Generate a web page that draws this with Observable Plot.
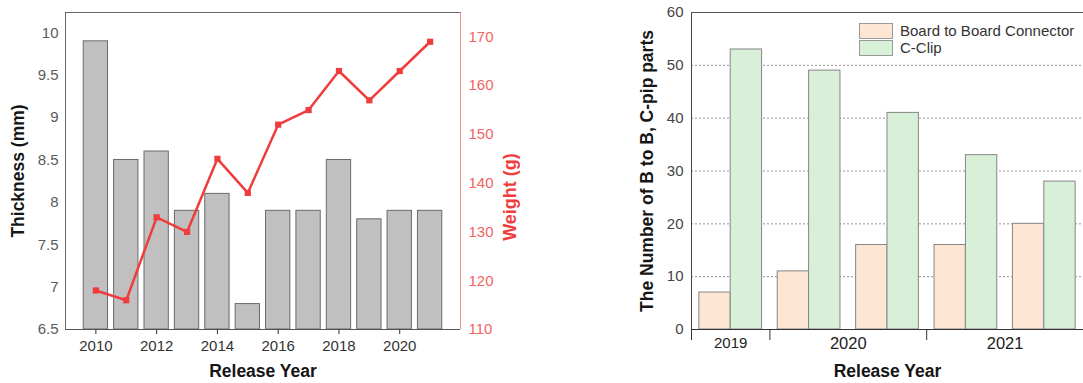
<!DOCTYPE html>
<html>
<head>
<meta charset="utf-8">
<script src="https://cdn.jsdelivr.net/npm/d3@7"></script>
<script src="https://cdn.jsdelivr.net/npm/@observablehq/plot@0.6"></script>
<style>
  body { margin: 0; background: #fff; }
  #chart { position: relative; width: 1083px; height: 383px; overflow: hidden;
           font-family: "Liberation Sans", Arial, sans-serif; }
  #chart svg { position: absolute; top: 0; }
  .legend { position: absolute; left: 859px; top: 22px; font-size: 15px; color: #333; }
  .legend .row { display: flex; align-items: center; height: 17px; }
  .legend .sw { width: 32px; height: 14px; border: 1px solid #9a9a9a; margin-right: 7px; }
</style>
</head>
<body>
<div id="chart"></div>
<script>
// Left panel: thickness (bars) and weight (line) by release year
const years = [2010, 2011, 2012, 2013, 2014, 2015, 2016, 2017, 2018, 2019, 2020, 2021];
const thickness = [9.9, 8.5, 8.6, 7.9, 8.1, 6.8, 7.9, 7.9, 8.5, 7.8, 7.9, 7.9];
const weight = [118, 116, 133, 130, 145, 138, 152, 155, 163, 157, 163, 169];
const yearTicks = [2010, 2012, 2014, 2016, 2018, 2020];
const thicknessTicks = [6.5, 7, 7.5, 8, 8.5, 9, 9.5, 10];
const weightTicks = [110, 120, 130, 140, 150, 160, 170];

// Right panel: part counts per model slot, grouped by release year
const slotYears = ["2019", "2020", "2020", "2021", "2021"];
const seriesNames = ["Board to Board Connector", "C-Clip"];
const boardToBoard = [7, 11, 16, 16, 20];
const cClip = [53, 49, 41, 33, 28];
const countTicks = [0, 10, 20, 30, 40, 50, 60];

const FONT = '"Liberation Sans", Arial, sans-serif';
const chart = document.getElementById("chart");

const phones = years.map((year, i) => ({year, thickness: thickness[i], weight: weight[i]}));

const thickDomain = [6.5, 10.24];
const weightDomain = [110, 175];
const yearDomain = [2009, 2022];

const leftFrame = {
  width: 540, height: 383,
  marginLeft: 65, marginRight: 80, marginTop: 12, marginBottom: 54,
  style: {fontFamily: FONT, fontSize: "15px", background: "transparent", overflow: "visible"}
};

const thickPlot = Plot.plot({
  ...leftFrame,
  x: {type: "linear", domain: yearDomain},
  y: {domain: thickDomain},
  marks: [
    Plot.rectY(phones, {
      x1: d => d.year - 0.4, x2: d => d.year + 0.4,
      y1: thickDomain[0], y2: "thickness",
      fill: "#c0c0c0", stroke: "#6a6a6a", strokeWidth: 1
    }),
    Plot.ruleX([yearDomain[0]], {stroke: "#666"}),
    Plot.ruleY([thickDomain[1]], {stroke: "#666"}),
    Plot.ruleY([thickDomain[0]], {stroke: "#555"}),
    Plot.axisY({ticks: thicknessTicks, tickFormat: d => String(d), tickSize: 0, tickPadding: 7,
                color: "#5a5a5a", label: null}),
    Plot.axisX({ticks: yearTicks, tickFormat: d => String(d), tickSize: 5, tickPadding: 6,
                color: "#333", label: null}),
    Plot.text(["Thickness (mm)"], {frameAnchor: "left", textAnchor: "middle", dx: -47, rotate: -90,
                fontWeight: "bold", fontSize: 17.5, fill: "#151515"}),
    Plot.text(["Release Year"], {frameAnchor: "bottom", lineAnchor: "middle", dy: 42,
                fontWeight: "bold", fontSize: 17.5, fill: "#151515"})
  ]
});

// Weight line drawn on its own right-hand scale over the same frame
const weightPlot = Plot.plot({
  ...leftFrame,
  x: {type: "linear", domain: yearDomain, axis: null},
  y: {domain: weightDomain},
  marks: [
    Plot.ruleX([yearDomain[1]], {stroke: "#f28c8c"}),
    Plot.line(phones, {x: "year", y: "weight", stroke: "#ef3d3d", strokeWidth: 2.5}),
    Plot.dot(phones, {x: "year", y: "weight", symbol: "square", r: 3.5, fill: "#ef3d3d"}),
    Plot.axisY({anchor: "right", ticks: weightTicks, tickSize: 0, tickPadding: 8,
                color: "#f06464", label: null}),
    Plot.text(["Weight (g)"], {frameAnchor: "right", textAnchor: "middle", dx: 50, dy: 26, rotate: -90,
                fontWeight: "bold", fontSize: 18, fill: "#ef3d3d"})
  ]
});

// Right panel data
const slots = slotYears.map((year, i) => ({slot: i, year, counts: [boardToBoard[i], cClip[i]]}));
const bars = slots.flatMap(d => seriesNames.map((name, k) => ({slot: d.slot, k, name, value: d.counts[k]})));
const yearSpans = d3.rollups(slots, v => d3.mean(v, d => d.slot), d => d.year)
  .map(([year, center]) => ({year, center}));
const yearBounds = slots.filter((d, i) => i === 0 || d.year !== slots[i - 1].year).map(d => d.slot - 0.5);
const slotDomain = [-0.5, slots.length - 0.5];
const countDomain = [0, 60];
const seriesFill = ["#fde6d3", "#d9f0d8"];

const countPlot = Plot.plot({
  width: 483, height: 383,
  marginLeft: 91, marginRight: 0, marginTop: 12, marginBottom: 54,
  x: {type: "linear", domain: slotDomain},
  y: {domain: countDomain},
  style: {fontFamily: FONT, fontSize: "15px", background: "transparent", overflow: "visible"},
  marks: [
    Plot.gridY({ticks: countTicks.filter(t => t > countDomain[0] && t < countDomain[1]),
                stroke: "#8a8a8a", strokeOpacity: 0.9, strokeDasharray: "2,2"}),
    Plot.rectY(bars, {
      x1: d => d.slot - 0.4 + 0.4 * d.k, x2: d => d.slot + 0.4 * d.k,
      y1: countDomain[0], y2: "value",
      fill: d => seriesFill[d.k], stroke: "#858585", strokeWidth: 1
    }),
    Plot.ruleX([slotDomain[0]], {stroke: "#444"}),
    Plot.ruleY([countDomain[1]], {stroke: "#555"}),
    Plot.ruleY([countDomain[0]], {stroke: "#333"}),
    Plot.axisY({ticks: countTicks, tickSize: 0, tickPadding: 8, color: "#444", label: null}),
    Plot.axisX({ticks: yearBounds, tickFormat: () => "", tickSize: 11, color: "#333", label: null}),
    Plot.text(yearSpans, {x: "center", text: "year", frameAnchor: "bottom", lineAnchor: "middle", dy: 14,
                fontSize: d => (d.year === "2019" ? 15 : 16.5), fill: "#222"}),
    Plot.text(["The Number of B to B, C-pip parts"], {frameAnchor: "left", textAnchor: "middle", dx: -44, rotate: -90,
                fontWeight: "bold", fontSize: 17.5, fill: "#151515"}),
    Plot.text(["Release Year"], {frameAnchor: "bottom", lineAnchor: "middle", dy: 42,
                fontWeight: "bold", fontSize: 17.5, fill: "#151515"})
  ]
});

thickPlot.style.left = "0px";
weightPlot.style.left = "0px";
countPlot.style.left = "600px";
chart.append(thickPlot, weightPlot, countPlot);

// Legend for the grouped bars
const legend = document.createElement("div");
legend.className = "legend";
seriesNames.forEach((name, k) => {
  const row = document.createElement("div");
  row.className = "row";
  const sw = document.createElement("span");
  sw.className = "sw";
  sw.style.background = seriesFill[k];
  const label = document.createElement("span");
  label.textContent = name;
  row.append(sw, label);
  legend.append(row);
});
chart.append(legend);
</script>
</body>
</html>
